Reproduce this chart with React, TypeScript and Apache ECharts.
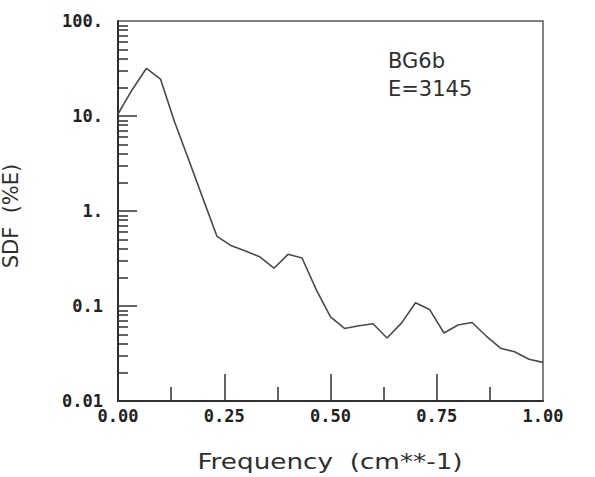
import React, { useEffect, useRef } from "react";
import * as echarts from "echarts";

// Spectral density function of record BG6b (log scale), sampled every 1/30 cm^-1
const frequency = [
  0, 0.033, 0.067, 0.1, 0.133, 0.167, 0.2, 0.233, 0.267, 0.3, 0.333, 0.367,
  0.4, 0.433, 0.467, 0.5, 0.533, 0.567, 0.6, 0.633, 0.667, 0.7, 0.733, 0.767,
  0.8, 0.833, 0.867, 0.9, 0.933, 0.967, 1.0,
];
const sdf = [
  10.5, 18.8, 31.8, 24.5, 8.7, 3.4, 1.35, 0.54, 0.43, 0.38, 0.33, 0.25, 0.35,
  0.32, 0.147, 0.077, 0.058, 0.062, 0.065, 0.046, 0.066, 0.108, 0.092, 0.052,
  0.063, 0.067, 0.048, 0.036, 0.033, 0.0275, 0.0255,
];

const xTickLabels = ["0.00", "0.25", "0.50", "0.75", "1.00"];
const xMajorTicks = [0.25, 0.5, 0.75];
const xMinorTicks = [0.125, 0.375, 0.625, 0.875];

const yTickLabels = ["0.01", "0.1", "1.", "10.", "100."];
const yLabelValues = [0.01, 0.1, 1, 10, 100];
const yMajorTicks = [0.1, 1, 10];
const yMinorTicks = [
  0.02, 0.03, 0.04, 0.05, 0.06, 0.07, 0.08, 0.09,
  0.2, 0.3, 0.4, 0.5, 0.6, 0.7, 0.8, 0.9,
  2, 3, 4, 5, 6, 7, 8, 9,
  20, 30, 40, 50, 60, 70, 80, 90,
];

const caseName = "BG6b";
const energyNote = "E=3145";

const INK = "#2f2f2f";
const MONO = '"DejaVu Sans Mono", "Liberation Mono", monospace';
const SANS = '"DejaVu Sans", sans-serif';

export default function App() {
  const ref = useRef<HTMLDivElement>(null);

  useEffect(() => {
    if (!ref.current) return;
    const chart = echarts.init(ref.current, null, { renderer: "svg" });

    const tickLabelStyle = {
      fontFamily: MONO,
      fontWeight: "bold" as const,
      fontSize: 17,
      color: "#222",
    };

    chart.setOption({
      animation: false,
      backgroundColor: "#ffffff",
      grid: {
        left: 118,
        right: 52,
        top: 21,
        bottom: 76,
        containLabel: false,
        show: true,
        borderColor: "#5a5a5a",
        borderWidth: 1.5,
        backgroundColor: "transparent",
      },
      xAxis: [
        {
          type: "value",
          min: 0,
          max: 1,
          interval: 0.25,
          position: "bottom",
          axisLine: { show: true, lineStyle: { color: INK, width: 2 } },
          axisTick: {
            show: true,
            inside: true,
            length: 27,
            customValues: xMajorTicks,
            lineStyle: { color: INK, width: 1.5 },
          },
          axisLabel: {
            ...tickLabelStyle,
            margin: 6,
            formatter: (v: number) => xTickLabels[Math.round(v * 4)] ?? "",
          },
          splitLine: { show: false },
        },
        {
          type: "value",
          min: 0,
          max: 1,
          position: "bottom",
          axisLine: { show: false },
          axisTick: {
            show: true,
            inside: true,
            length: 14,
            customValues: xMinorTicks,
            lineStyle: { color: INK, width: 1.5 },
          },
          axisLabel: { show: false },
          splitLine: { show: false },
        },
      ],
      yAxis: [
        {
          type: "log",
          logBase: 10,
          min: 0.01,
          max: 100,
          position: "left",
          axisLine: { show: true, lineStyle: { color: INK, width: 2 } },
          axisTick: {
            show: true,
            inside: true,
            length: 19,
            customValues: yMajorTicks,
            lineStyle: { color: INK, width: 1.5 },
          },
          axisLabel: {
            ...tickLabelStyle,
            margin: 15,
            customValues: yLabelValues,
            formatter: (v: number) =>
              yTickLabels[Math.round(Math.log10(v)) + 2] ?? "",
          },
          splitLine: { show: false },
          minorTick: { show: false },
        },
        {
          type: "log",
          logBase: 10,
          min: 0.01,
          max: 100,
          position: "left",
          axisLine: { show: false },
          axisTick: {
            show: true,
            inside: true,
            length: 10,
            customValues: yMinorTicks,
            lineStyle: { color: INK, width: 1.5 },
          },
          axisLabel: { show: false },
          splitLine: { show: false },
        },
      ],
      series: [
        {
          type: "line",
          xAxisIndex: 0,
          yAxisIndex: 0,
          data: frequency.map((f, i) => [f, sdf[i]]),
          showSymbol: false,
          symbol: "none",
          lineStyle: { color: "#4a4a4a", width: 1.6 },
          z: 3,
        },
      ],
      graphic: [
        {
          type: "text",
          x: 388,
          y: 61,
          style: {
            text: caseName,
            fontFamily: SANS,
            fontSize: 21,
            fill: INK,
            verticalAlign: "middle",
          },
        },
        {
          type: "text",
          x: 388,
          y: 89,
          style: {
            text: energyNote,
            fontFamily: SANS,
            fontSize: 21,
            fill: INK,
            verticalAlign: "middle",
          },
        },
        {
          type: "text",
          x: 11,
          y: 216,
          rotation: Math.PI / 2,
          style: {
            text: "SDF  (%E)",
            fontFamily: SANS,
            fontSize: 21,
            fill: INK,
            align: "center",
            verticalAlign: "middle",
          },
        },
        {
          type: "text",
          x: 330,
          y: 462,
          scaleX: 1.25,
          style: {
            text: "Frequency  (cm**-1)",
            fontFamily: SANS,
            fontSize: 21,
            fill: INK,
            align: "center",
            verticalAlign: "middle",
          },
        },
      ],
    });

    return () => chart.dispose();
  }, []);

  return (
    <div
      ref={ref}
      style={{
        position: "fixed",
        left: 0,
        top: 0,
        width: 595,
        height: 477,
        background: "#ffffff",
      }}
    />
  );
}
